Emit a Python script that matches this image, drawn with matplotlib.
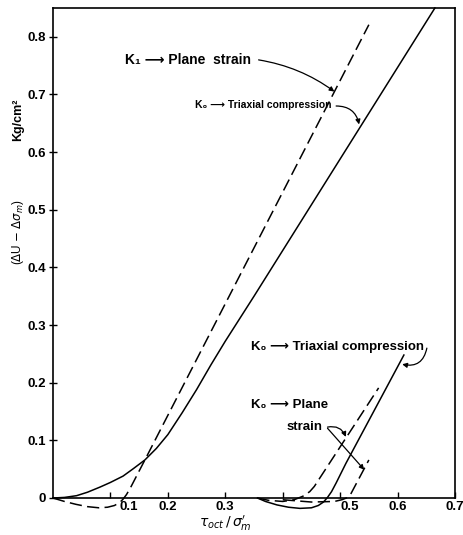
import matplotlib
matplotlib.use("Agg")
import matplotlib.pyplot as plt
from matplotlib.transforms import ScaledTranslation

plt.rcParams['font.family'] = ['Liberation Sans', 'DejaVu Sans']

# K1 -> plane strain (dashed, upper)
k1_ps_x = [0.0, 0.02, 0.04, 0.06, 0.08, 0.095, 0.107, 0.116, 0.122, 0.128,
           0.135, 0.16, 0.55]
k1_ps_y = [0.0, -0.006, -0.011, -0.015, -0.017, -0.016, -0.013, -0.008,
           -0.002, 0.006, 0.018, 0.066, 0.821]

# K0 -> triaxial compression (solid, upper)
k0_tc_x = [0.0, 0.02, 0.041, 0.06, 0.082, 0.10, 0.122, 0.14, 0.16, 0.18,
           0.20, 0.225, 0.25, 0.275, 0.30, 0.35, 0.665]
k0_tc_y = [0.0, 0.001, 0.004, 0.010, 0.019, 0.027, 0.038, 0.051, 0.066,
           0.086, 0.11, 0.148, 0.188, 0.231, 0.272, 0.35, 0.85]

# second loading, K0 -> triaxial compression (solid, lower)
k0b_tc_x = [0.356, 0.37, 0.39, 0.41, 0.43, 0.45, 0.462, 0.471, 0.478,
            0.485, 0.493, 0.51, 0.611]
k0b_tc_y = [0.0, -0.006, -0.012, -0.016, -0.018, -0.017, -0.013, -0.007,
            0.001, 0.011, 0.026, 0.06, 0.248]

# second loading, K0 -> plane strain (dashed, lower left)
k0b_ps_x = [0.356, 0.375, 0.40, 0.42, 0.435, 0.447, 0.455, 0.567]
k0b_ps_y = [0.0, -0.004, -0.006, -0.003, 0.003, 0.011, 0.02, 0.191]

# second loading, K0 -> plane strain (dashed, lower right)
k0c_ps_x = [0.40, 0.45, 0.49, 0.503, 0.511, 0.518, 0.55]
k0c_ps_y = [-0.003, -0.007, -0.006, -0.003, 0.0, 0.006, 0.066]

xticks = [0.1, 0.2, 0.3, 0.4, 0.5, 0.6, 0.7]
xticklabels = ['0.1', '0.2', '0.3', '', '0.5', '0.6', '0.7']
yticks = [0, 0.1, 0.2, 0.3, 0.4, 0.5, 0.6, 0.7, 0.8]
yticklabels = ['0', '0.1', '0.2', '0.3', '0.4', '0.5', '0.6', '0.7', '0.8']

fig = plt.figure(figsize=(4.64, 5.35), dpi=100)
ax = fig.add_axes([53 / 464, 1 - 498 / 535, 402 / 464, 490 / 535])

dash = (8, 3.5)
lw = 1.1
ax.plot(k1_ps_x, k1_ps_y, color='k', lw=lw, dashes=dash, clip_on=False)
ax.plot(k0_tc_x, k0_tc_y, color='k', lw=lw, clip_on=False)
ax.plot(k0b_tc_x, k0b_tc_y, color='k', lw=lw, clip_on=False)
ax.plot(k0b_ps_x, k0b_ps_y, color='k', lw=lw, dashes=dash, clip_on=False)
ax.plot(k0c_ps_x, k0c_ps_y, color='k', lw=lw, dashes=dash, clip_on=False)

ax.set_xlim(0, 0.7)
ax.set_ylim(0, 0.85)
ax.set_xticks(xticks)
ax.set_xticklabels(xticklabels, fontsize=9.5, fontweight='bold')
ax.set_yticks(yticks)
ax.set_yticklabels(yticklabels, fontsize=9.5, fontweight='bold')
ax.tick_params(axis='x', direction='in', length=4, pad=2, width=1)
ax.tick_params(axis='y', direction='inout', length=6, pad=2, width=1)
for s in ax.spines.values():
    s.set_linewidth(1.2)

# the 0.1 and 0.5 labels sit right of their ticks, clear of the curves
for lab, shift in zip(ax.get_xticklabels(), [18, 0, 0, 0, 10, 0, 0]):
    if shift:
        lab.set_transform(lab.get_transform()
                          + ScaledTranslation(shift / 100, 0, fig.dpi_scale_trans))

fig.text(18 / 464, 1 - 120 / 535, 'Kg/cm²', rotation=90, ha='center',
         va='center', fontsize=9, fontweight='bold')
fig.text(18 / 464, 1 - 232 / 535, r'($\Delta$U $-$ $\Delta\sigma_m$)', rotation=90,
         ha='center', va='center', fontsize=8.5)
fig.text(225 / 464, 1 - 523 / 535, r"$\tau_{oct}\,/\,\sigma_m'$", ha='center',
         va='center', fontsize=10)

arrow = dict(arrowstyle='-|>', color='k', lw=0.9, mutation_scale=7,
             shrinkA=0, shrinkB=0)

ax.text(0.125, 0.760, 'K₁ ⟶ Plane  strain', fontsize=10, fontweight='bold',
        ha='left', va='center')
ax.annotate('', xy=(0.49, 0.705), xytext=(0.358, 0.760),
            arrowprops=dict(arrow, connectionstyle='arc3,rad=-0.12'))

ax.text(0.247, 0.682, 'K₀ ⟶ Triaxial compression', fontsize=7.5, fontweight='bold',
        ha='left', va='center')
ax.annotate('', xy=(0.533, 0.648), xytext=(0.493, 0.680),
            arrowprops=dict(arrow, connectionstyle='arc3,rad=-0.4'))

ax.text(0.345, 0.262, 'K₀ ⟶ Triaxial compression', fontsize=9.5, fontweight='bold',
        ha='left', va='center')
ax.annotate('', xy=(0.608, 0.232), xytext=(0.651, 0.260),
            arrowprops=dict(arrow, connectionstyle='arc3,rad=-0.5'))

ax.text(0.345, 0.161, 'K₀ ⟶ Plane', fontsize=9.5, fontweight='bold',
        ha='left', va='center')
ax.text(0.406, 0.123, 'strain', fontsize=9.5, fontweight='bold',
        ha='left', va='center')
ax.annotate('', xy=(0.510, 0.106), xytext=(0.478, 0.123),
            arrowprops=dict(arrow, connectionstyle='arc3,rad=-0.4'))
ax.annotate('', xy=(0.542, 0.049), xytext=(0.478, 0.121),
            arrowprops=dict(arrow, connectionstyle='arc3,rad=0'))

fig.savefig('out.png', dpi=100)
